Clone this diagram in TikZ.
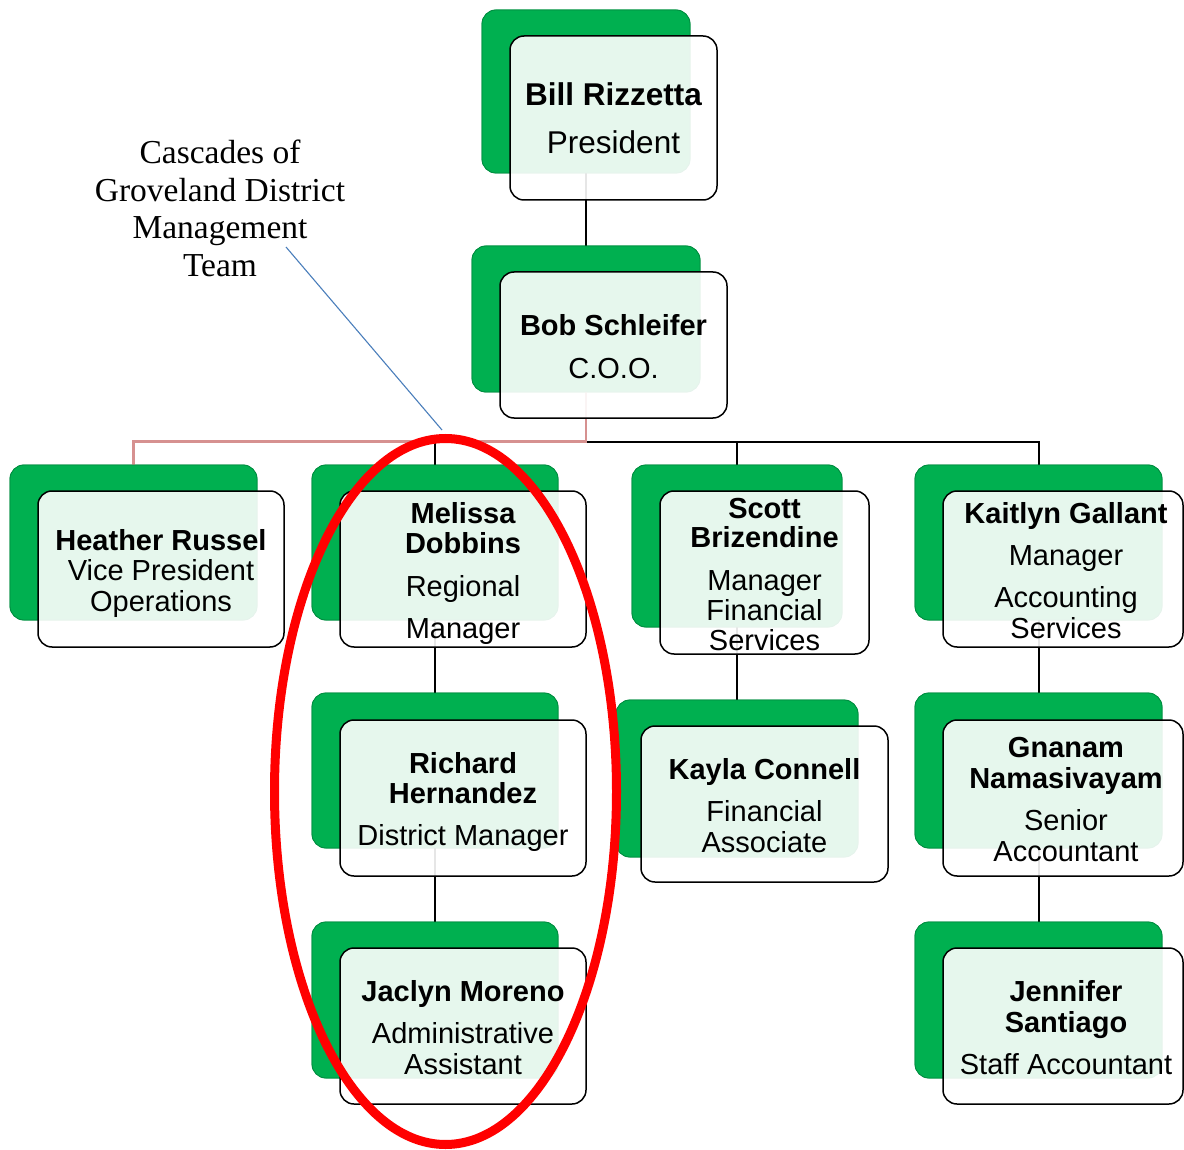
\documentclass[tikz,border=0pt]{standalone}
\usepackage{fontspec}
\setmainfont{Liberation Sans}
\newfontfamily\boxfont{Liberation Sans}
\newfontfamily\annfont{Liberation Serif}
\usetikzlibrary{shapes.geometric}
\definecolor{ogreen}{RGB}{0,176,80}
\definecolor{pinkline}{RGB}{214,145,144}
\definecolor{noteblue}{RGB}{74,126,187}
\tikzset{
  gbox/.style={fill=ogreen, draw=ogreen!80!black, line width=0.8pt, rounded corners=14pt, inner sep=0pt},
  wbox/.style={fill=white, fill opacity=0.9, draw=black, draw opacity=1, line width=1.5pt, rounded corners=14pt, inner sep=0pt},
  conn/.style={draw=black, line width=2pt},
  pinkc/.style={draw=pinkline, line width=2.8pt},
  ttl/.style={font=\boxfont\fontsize{29}{30}\selectfont, anchor=base, inner sep=0pt, yshift=-1.5pt},
  nm/.style={font=\boxfont\bfseries\fontsize{29}{30}\selectfont, anchor=base, inner sep=0pt, yshift=-1.5pt},
  bttl/.style={font=\boxfont\fontsize{31.5}{32}\selectfont, anchor=base, inner sep=0pt, yshift=-1.5pt},
  bnm/.style={font=\boxfont\bfseries\fontsize{31.5}{32}\selectfont, anchor=base, inner sep=0pt, yshift=-1.5pt},
  note/.style={font=\annfont\fontsize{33.5}{37}\selectfont, anchor=base, inner sep=0pt},
}
\newcommand\gb[5]{\node[gbox, minimum width=#4, minimum height=#5] (#1) at (#2,#3) {};}
\newcommand\wb[5]{\node[wbox, minimum width=#4, minimum height=#5] (#1) at (#2,#3) {};}
\begin{document}
\begin{tikzpicture}[x=1pt,y=-1pt]
\useasboundingbox (0,0) rectangle (1184,1150);
% green back boxes (anchors for connectors)
\gb{billG}{586}{91.5}{208}{163}
\gb{bobG}{586}{319}{228}{146}
\gb{heaG}{133.5}{542.5}{247}{155}
\gb{melG}{435}{542.5}{246}{155}
\gb{scoG}{737}{546}{210}{162}
\gb{kaiG}{1038.5}{542.5}{247}{155}
\gb{ricG}{435}{770.5}{246}{155}
\gb{kayG}{737}{778.5}{242}{157}
\gb{gnaG}{1038.5}{770.5}{247}{155}
\gb{jacG}{435}{1000}{246}{156}
\gb{jenG}{1038.5}{1000}{247}{156}
% connectors
\coordinate (busY) at (0,441.7);
\draw[conn] (billG.center) -- (bobG.north);
\draw[conn] (bobG.center) -- (bobG.center |- busY) -| (kaiG.north);
\draw[conn] (scoG.north) -- (scoG.north |- busY);
\draw[conn] (melG.north) -- (melG.north |- busY);
\draw[pinkc] (bobG.center) -- (bobG.center |- busY) -| (heaG.north);
\draw[conn] (melG.center) -- (ricG.north);
\draw[conn] (ricG.center) -- (jacG.north);
\draw[conn] (scoG.center) -- (kayG.north);
\draw[conn] (kaiG.center) -- (gnaG.north);
\draw[conn] (gnaG.center) -- (jenG.north);
% green boxes again, over the connectors
\gb{billG2}{586}{91.5}{208}{163}
\gb{bobG2}{586}{319}{228}{146}
\gb{heaG2}{133.5}{542.5}{247}{155}
\gb{melG2}{435}{542.5}{246}{155}
\gb{scoG2}{737}{546}{210}{162}
\gb{kaiG2}{1038.5}{542.5}{247}{155}
\gb{ricG2}{435}{770.5}{246}{155}
\gb{kayG2}{737}{778.5}{242}{157}
\gb{gnaG2}{1038.5}{770.5}{247}{155}
\gb{jacG2}{435}{1000}{246}{156}
\gb{jenG2}{1038.5}{1000}{247}{156}
% white front boxes
\wb{billW}{613.5}{118}{207}{164}
\wb{bobW}{613.5}{345}{227}{146}
\wb{heaW}{161}{569}{246}{156}
\wb{melW}{463}{569}{246}{156}
\wb{scoW}{764.5}{572.5}{209}{163}
\wb{kaiW}{1063}{569}{240}{156}
\wb{ricW}{463}{798}{246}{156}
\wb{kayW}{764.5}{804}{247}{156}
\wb{gnaW}{1063}{798}{240}{156}
\wb{jacW}{463}{1026}{246}{156}
\wb{jenW}{1063}{1026}{240}{156}
% texts
\node[bnm]  (billN)  at (613.5,104) {Bill Rizzetta};
\node[bttl] (billT)  at (613.5,152) {President};
\node[nm]   (bobN)   at (613.5,334) {Bob Schleifer};
\node[ttl]  (bobT)   at (613.5,377) {C.O.O.};
\node[nm]   (heaN)   at (161,549) {Heather Russel};
\node[ttl]  (heaT1)  at (161,579) {Vice President};
\node[ttl]  (heaT2)  at (161,610) {Operations};
\node[nm]   (melN1)  at (463,522) {Melissa};
\node[nm]   (melN2)  at (463,552) {Dobbins};
\node[ttl]  (melT1)  at (463,595) {Regional};
\node[ttl]  (melT2)  at (463,637) {Manager};
\node[nm]   (scoN1)  at (764.5,517) {Scott};
\node[nm]   (scoN2)  at (764.5,546) {Brizendine};
\node[ttl]  (scoT1)  at (764.5,589) {Manager};
\node[ttl]  (scoT2)  at (764.5,619) {Financial};
\node[ttl]  (scoT3)  at (764.5,649) {Services};
\node[nm]   (kaiN)   at (1066,522) {Kaitlyn Gallant};
\node[ttl]  (kaiT1)  at (1066,564) {Manager};
\node[ttl]  (kaiT2)  at (1066,606) {Accounting};
\node[ttl]  (kaiT3)  at (1066,637) {Services};
\node[nm]   (ricN1)  at (463,772) {Richard};
\node[nm]   (ricN2)  at (463,802) {Hernandez};
\node[ttl]  (ricT)   at (463,844) {District Manager};
\node[nm]   (kayN)   at (764.5,778) {Kayla Connell};
\node[ttl]  (kayT1)  at (764.5,820) {Financial};
\node[ttl]  (kayT2)  at (764.5,851) {Associate};
\node[nm]   (gnaN1)  at (1066,756) {Gnanam};
\node[nm]   (gnaN2)  at (1066,787) {Namasivayam};
\node[ttl]  (gnaT1)  at (1066,829) {Senior};
\node[ttl]  (gnaT2)  at (1066,860) {Accountant};
\node[nm]   (jacN)   at (463,1000) {Jaclyn Moreno};
\node[ttl]  (jacT1)  at (463,1042) {Administrative};
\node[ttl]  (jacT2)  at (463,1073) {Assistant};
\node[nm]   (jenN1)  at (1066,1000) {Jennifer};
\node[nm]   (jenN2)  at (1066,1031) {Santiago};
\node[ttl]  (jenT)   at (1066,1073) {Staff Accountant};
% annotation
\node[note] (note1) at (220,164) {Cascades of};
\node[note] (note2) at (220,202) {Groveland District};
\node[note] (note3) at (220,239) {Management};
\node[note] (note4) at (220,277) {Team};
\coordinate (lstart) at (286,247);
\coordinate (lend) at (442,430);
\draw[noteblue, line width=1.1pt] (lstart) -- (lend);
% red ellipse
\node[ellipse, draw=red, line width=9pt, minimum width=342pt, minimum height=706pt, inner sep=0pt] (ring) at (445.5,791.5) {};
\end{tikzpicture}
\end{document}
